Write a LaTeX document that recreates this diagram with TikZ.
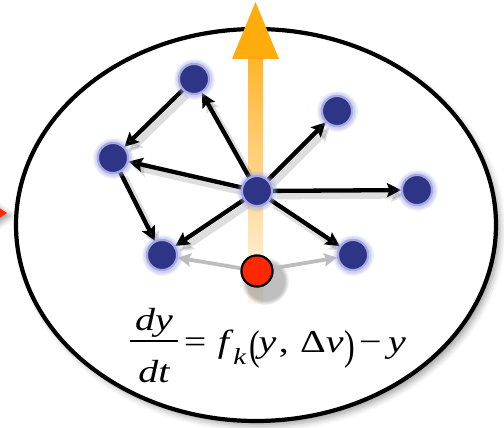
\documentclass[tikz,border=0pt]{standalone}
\usepackage{fontspec}
\setmainfont{Liberation Serif}
\usetikzlibrary{arrows.meta,shadows.blur,fadings}
\definecolor{nodeblue}{HTML}{2E3486}
\definecolor{ringblue}{HTML}{A6AAE2}
\definecolor{redball}{HTML}{FF2800}
\definecolor{orangehead}{HTML}{FFAC0C}
\definecolor{orangetop}{HTML}{FFB52A}
\definecolor{orangebot}{HTML}{FFF8F0}
\definecolor{grayarrow}{HTML}{BDBDBD}
\newcommand{\eqpart}[1]{\makebox[38pt]{\itshape #1}}
\newcommand{\tallparen}[1]{\raisebox{-7pt}{\scalebox{0.8}[1.3]{#1}}}
\begin{document}
\begin{tikzpicture}[x=1pt,y=-1pt,
  agent/.style={circle, fill=nodeblue, draw=ringblue, line width=2pt,
    minimum size=30pt, inner sep=0pt},
  glow/.style={fill=ringblue, fill opacity=0.55, path fading=circle with fuzzy edge 20 percent},
  redagent/.style={circle, fill=redball, draw=black, line width=2pt,
    minimum size=31pt, inner sep=0pt},
  link/.style={-{Stealth[length=14pt,width=14pt,inset=2.5pt]}, line width=4.3pt,
    preaction={draw=black, opacity=0.13, line width=7pt,
      transform canvas={xshift=4pt,yshift=-5pt}}},
  glink/.style={-{Stealth[length=13pt,width=13pt,inset=2pt]}, line width=3.8pt,
    draw=grayarrow},
  frame/.style={line width=4.2pt,
    blur shadow={shadow xshift=4pt, shadow yshift=-5pt, shadow blur radius=6pt,
      shadow opacity=35}}
]
\useasboundingbox (0,0) rectangle (504,428);
% incoming red arrow tip at left edge
\fill[redball, blur shadow={shadow xshift=3pt, shadow yshift=-3pt, shadow blur radius=6pt, shadow opacity=40}]
  (-14,199) -- (7,213) -- (-14,227) -- cycle;
% frame ellipse
\draw[frame, fill=white] (256,225) ellipse [x radius=240, y radius=196];
% orange arrow
\shade[top color=orangetop, bottom color=orangebot]
  (248,58) rectangle (263,303);
\fill[orangehead] (232,59) -- (255.5,2) -- (279,59) -- cycle;
% nodes
\node[agent] (tl) at (194,79) {};
\node[agent] (l)  at (113,158) {};
\node[agent] (bl) at (162,255) {};
\node[agent] (c)  at (257,191) {};
\node[agent] (ur) at (337,111) {};
\node[agent] (r)  at (417,190) {};
\node[agent] (br) at (353,255) {};
\node[redagent] (rd) at (257,271) {};
% shadow of red agent
\fill[black, opacity=0.25, path fading=circle with fuzzy edge 20 percent] (265,281) circle [radius=24pt];
% edges
\draw[link] (c) -- (tl);
\draw[link] (c) -- (l);
\draw[link] (c) -- (bl);
\draw[link] (c) -- (ur);
\draw[link] (c) -- (r);
\draw[link] (c) -- (br);
\draw[link] (tl) -- (l);
\draw[link] (l) -- (bl);
\draw[glink] (rd) -- (bl);
\draw[glink] (rd) -- (br);
\foreach \n in {tl,l,bl,c,ur,r,br} {
  \path[glow] (\n) circle [radius=21pt];
  \node[agent] at (\n) {};
}
\node[redagent] at (rd) {};
% equation
\node[inner sep=0pt, anchor=base west] (eq) at (130,352)
  {\fontsize{32}{36}\selectfont\scalebox{1.25}[1]{%
   \raisebox{22pt}[0pt][0pt]{\eqpart{dy}}\kern-38pt
   \rule[10.2pt]{38pt}{1.6pt}\kern-38pt
   \raisebox{-30pt}[0pt][0pt]{\eqpart{dt}}%
   \kern5pt=\kern9pt\textit{f}\kern0pt\raisebox{-12pt}{\fontsize{23}{23}\selectfont\textit{k}}%
   \kern2pt\tallparen{(}\kern-1pt\textit{y}\kern2pt,\kern9pt Δ\textit{v}%
   \kern1pt\tallparen{)}\kern3pt−\kern5pt\textit{y}}};
\end{tikzpicture}
\end{document}
